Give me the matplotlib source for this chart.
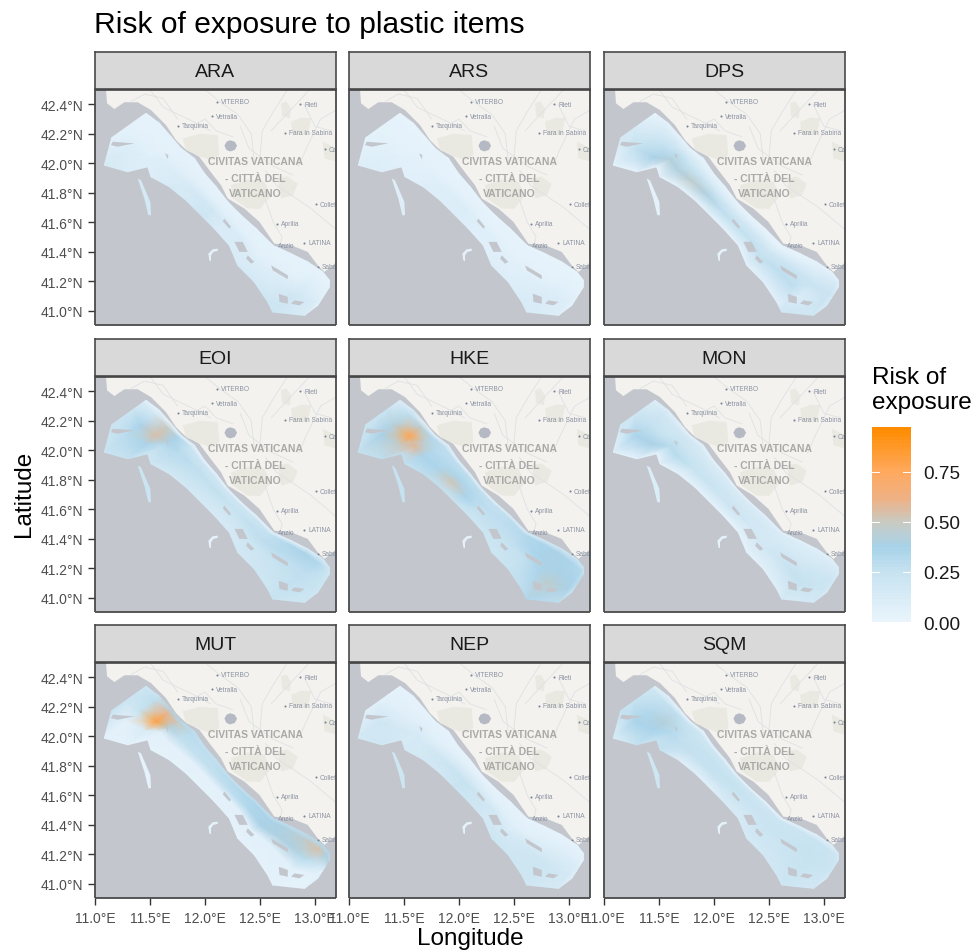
import numpy as np
import matplotlib
matplotlib.use('Agg')
import matplotlib.pyplot as plt
from matplotlib.colors import LinearSegmentedColormap, Normalize
from matplotlib.cm import ScalarMappable

plt.rcParams['font.family'] = ['Liberation Sans', 'DejaVu Sans']

W, H = 976, 953

species = ['ARA', 'ARS', 'DPS', 'EOI', 'HKE', 'MON', 'MUT', 'NEP', 'SQM']

xticks = [11.0, 11.5, 12.0, 12.5, 13.0]
xtick_labels = ['11.0°E', '11.5°E', '12.0°E', '12.5°E', '13.0°E']
yticks = [41.0, 41.2, 41.4, 41.6, 41.8, 42.0, 42.2, 42.4]
ytick_labels = ['41.0°N', '41.2°N', '41.4°N', '41.6°N', '41.8°N', '42.0°N', '42.2°N', '42.4°N']

# coastline
coast_lon = [11.10, 11.109, 11.176, 11.267, 11.388, 11.509, 11.645, 11.736, 11.812, 11.948, 12.039,
             12.145, 12.206, 12.358, 12.494, 12.630, 12.782, 12.933, 13.024, 13.085, 13.197, 13.3, 13.3, 11.1]
coast_lat = [42.504, 42.407, 42.368, 42.414, 42.414, 42.361, 42.259, 42.157, 42.101, 42.044, 41.953,
             41.851, 41.761, 41.692, 41.602, 41.454, 41.443, 41.398, 41.307, 41.262, 41.330, 41.33, 42.6, 42.6]

# built up / hill patches on land
patches_lon = [[11.797, 11.95, 12.115, 12.130, 12.05, 11.964, 11.827],
               [12.236, 12.40, 12.539, 12.60, 12.50, 12.388, 12.252],
               [12.691, 12.74, 12.782, 12.77, 12.70],
               [13.070, 13.197, 13.197, 13.085],
               [12.661, 12.75, 12.842, 12.80, 12.691],
               [12.782, 12.88, 12.964, 12.933, 12.797]]
patches_lat = [[42.169, 42.20, 42.191, 42.055, 42.02, 42.044, 42.089],
               [41.851, 41.89, 41.874, 41.78, 41.69, 41.692, 41.761],
               [42.407, 42.42, 42.37, 42.305, 42.32],
               [42.146, 42.101, 42.010, 42.033],
               [41.897, 41.91, 41.86, 41.783, 41.760],
               [42.282, 42.31, 42.305, 42.191, 42.191]]

lake_lon = [12.176, 12.195, 12.228, 12.270, 12.291, 12.270, 12.228, 12.195]
lake_lat = [42.119, 42.146, 42.156, 42.146, 42.119, 42.090, 42.080, 42.090]

roads_lon = [[11.33, 11.45, 11.62, 11.75],
             [12.00, 12.13, 12.30, 12.42, 12.45],
             [12.75, 12.62, 12.52, 12.50],
             [12.90, 13.00, 13.15],
             [12.55, 12.65, 12.75, 12.95, 13.19],
             [12.55, 12.62, 12.70, 12.68],
             [11.50, 11.62, 11.90, 12.05],
             [12.95, 12.85, 12.70, 12.60],
             [13.19, 13.05, 12.92, 12.85],
             [12.32, 12.40, 12.62, 12.80],
             [11.85, 12.00, 12.10, 12.25]]
roads_lat = [[42.42, 42.47, 42.44, 42.30],
             [42.50, 42.42, 42.33, 42.20, 42.00],
             [42.50, 42.35, 42.22, 42.05],
             [42.40, 42.25, 42.22],
             [41.95, 41.85, 41.80, 41.70, 41.55],
             [41.75, 41.60, 41.50, 41.44],
             [42.50, 42.38, 42.28, 42.22],
             [42.50, 42.42, 42.30, 42.22],
             [42.36, 42.30, 42.10, 41.98],
             [42.25, 42.10, 41.98, 41.92],
             [42.24, 42.30, 42.22, 42.18]]

towns = ['VITERBO', 'Vetralla', 'Tarquinia', 'Rieti', 'Fara in Sabina', 'Colleferro', 'Aprilia',
         'Anzio', 'LATINA', 'Sabaudia', 'Cassino']
towns_lon = [12.109, 12.061, 11.758, 12.867, 12.730, 13.009, 12.652, 12.630, 12.903, 13.024, 13.091]
towns_lat = [42.418, 42.318, 42.253, 42.402, 42.207, 41.722, 41.588, 41.441, 41.461, 41.296, 42.094]
big_names = ['CIVITAS VATICANA', '- CITTÀ DEL', 'VATICANO']
big_lon = [12.455, 12.455, 12.455]
big_lat = [42.017, 41.903, 41.795]

# study area: shore edge and offshore edge at stations going NW to SE
inner_lon = [11.464, 11.585, 11.691, 11.782, 11.903, 11.994, 12.100, 12.206,
             12.327, 12.464, 12.615, 12.782, 12.933, 13.070, 13.130, 13.130]
inner_lat = [42.339, 42.271, 42.180, 42.101, 42.033, 41.931, 41.840, 41.738,
             41.647, 41.556, 41.443, 41.386, 41.330, 41.262, 41.205, 41.160]
outer_lon = [11.152, 11.085, 11.297, 11.479, 11.509, 11.676, 11.827, 11.964,
             12.085, 12.221, 12.297, 12.448, 12.570, 12.615, 12.903, 13.024]
outer_lat = [42.173, 41.987, 41.942, 41.976, 41.908, 41.840, 41.749, 41.647,
             41.556, 41.443, 41.307, 41.194, 41.058, 40.990, 40.967, 41.035]
cross_frac = [0.0, 0.1, 0.35, 0.6, 1.0]

# risk read along the stations, columns go shore -> offshore
ARA = [[.03, .03, .03, .03, .05], [.03, .03, .04, .10, .14], [.03, .03, .04, .07, .10], [.03, .03, .04, .08, .08],
       [.03, .03, .05, .10, .08], [.03, .03, .05, .12, .14], [.03, .03, .05, .16, .14], [.03, .03, .06, .18, .20],
       [.03, .03, .05, .12, .12], [.03, .03, .04, .12, .10], [.03, .03, .04, .08, .14], [.03, .03, .04, .08, .15],
       [.03, .03, .04, .12, .20], [.03, .03, .10, .18, .20], [.03, .03, .06, .12, .12], [.03, .03, .03, .04, .04]]
ARS = [[.02, .02, .03, .03, .03], [.02, .02, .03, .06, .08], [.02, .02, .03, .06, .08], [.02, .02, .03, .06, .06],
       [.02, .02, .03, .06, .06], [.02, .02, .03, .07, .08], [.02, .02, .03, .09, .08], [.02, .02, .04, .10, .10],
       [.02, .02, .03, .07, .07], [.02, .02, .03, .07, .06], [.02, .02, .03, .05, .08], [.02, .02, .03, .05, .09],
       [.02, .02, .03, .08, .12], [.02, .02, .06, .11, .12], [.02, .02, .04, .08, .08], [.02, .02, .02, .03, .03]]
DPS = [[.03, .03, .08, .14, .16], [.04, .10, .20, .26, .03], [.03, .12, .28, .38, .03], [.03, .08, .28, .42, .03],
       [.03, .06, .24, .40, .03], [.03, .05, .24, .46, .03], [.03, .04, .20, .40, .03], [.03, .04, .18, .28, .03],
       [.03, .03, .16, .26, .03], [.03, .03, .16, .26, .03], [.03, .03, .18, .26, .04], [.03, .03, .20, .28, .05],
       [.03, .05, .22, .28, .05], [.03, .10, .22, .10, .18], [.06, .14, .22, .22, .18], [.05, .10, .14, .14, .12]]
EOI = [[.05, .12, .20, .22, .22], [.04, .18, .36, .30, .22], [.03, .50, .55, .36, .25], [.03, .36, .38, .28, .20],
       [.03, .22, .30, .28, .18], [.03, .20, .28, .25, .16], [.03, .18, .26, .23, .16], [.03, .18, .26, .20, .14],
       [.03, .20, .23, .18, .13], [.03, .20, .26, .20, .14], [.04, .26, .28, .20, .16], [.05, .32, .30, .22, .18],
       [.08, .38, .28, .24, .20], [.12, .34, .28, .26, .23], [.18, .23, .23, .23, .18], [.18, .20, .20, .20, .18]]
HKE = [[.10, .14, .22, .22, .22], [.12, .28, .42, .38, .25], [.05, .45, .78, .48, .28], [.05, .32, .46, .58, .28],
       [.05, .28, .32, .36, .26], [.05, .28, .32, .35, .28], [.05, .28, .35, .52, .26], [.05, .28, .32, .36, .23],
       [.06, .26, .28, .26, .20], [.10, .28, .28, .26, .20], [.12, .32, .28, .23, .20], [.15, .36, .35, .26, .23],
       [.18, .38, .38, .35, .28], [.20, .35, .38, .46, .34], [.23, .32, .36, .38, .28], [.23, .28, .28, .28, .23]]
MON = [[.08, .12, .16, .18, .18], [.10, .18, .26, .36, .05], [.05, .16, .23, .38, .03], [.05, .16, .23, .30, .03],
       [.05, .14, .20, .30, .04], [.04, .12, .20, .23, .03], [.04, .12, .18, .23, .03], [.04, .12, .18, .20, .03],
       [.05, .12, .16, .20, .03], [.05, .12, .16, .16, .03], [.05, .12, .15, .16, .04], [.05, .10, .15, .20, .06],
       [.06, .10, .16, .25, .08], [.06, .12, .20, .25, .13], [.10, .14, .20, .20, .16], [.10, .13, .16, .16, .13]]
MUT = [[.20, .20, .22, .22, .22], [.25, .28, .24, .04, .03], [.42, .60, .82, .12, .03], [.32, .50, .42, .05, .03],
       [.28, .30, .27, .04, .03], [.26, .28, .26, .04, .03], [.26, .28, .26, .04, .03], [.26, .30, .26, .04, .03],
       [.26, .32, .28, .04, .03], [.28, .35, .32, .05, .03], [.28, .38, .38, .05, .03], [.28, .40, .40, .06, .03],
       [.30, .46, .40, .06, .03], [.32, .55, .30, .05, .03], [.32, .40, .18, .03, .03], [.28, .42, .20, .05, .05]]
NEP = [[.03, .03, .03, .05, .06], [.03, .03, .08, .18, .16], [.03, .03, .08, .16, .18], [.03, .03, .08, .14, .14],
       [.03, .03, .06, .15, .15], [.03, .03, .08, .18, .16], [.03, .03, .10, .22, .16], [.03, .03, .12, .24, .22],
       [.03, .03, .08, .20, .20], [.03, .03, .06, .16, .16], [.03, .03, .05, .13, .20], [.03, .03, .06, .16, .20],
       [.03, .03, .10, .20, .20], [.03, .04, .13, .20, .18], [.03, .04, .11, .15, .14], [.03, .03, .05, .06, .06]]
SQM = [[.08, .18, .22, .25, .25], [.06, .25, .32, .36, .10], [.03, .28, .42, .36, .25], [.03, .23, .29, .32, .25],
       [.03, .20, .25, .27, .25], [.03, .20, .25, .25, .08], [.03, .20, .25, .25, .06], [.03, .20, .25, .23, .06],
       [.03, .20, .24, .20, .13], [.03, .18, .22, .18, .13], [.04, .20, .22, .20, .15], [.05, .22, .22, .20, .16],
       [.05, .23, .24, .22, .18], [.08, .23, .24, .23, .20], [.14, .20, .22, .20, .16], [.13, .18, .18, .18, .15]]
risk = [ARA, ARS, DPS, EOI, HKE, MON, MUT, NEP, SQM]

# offshore bank, one value per panel
bank_lon = [11.388, 11.418, 11.503, 11.509, 11.485, 11.448]
bank_lat = [41.896, 41.884, 41.737, 41.647, 41.647, 41.760]
bank_risk = [.15, .08, .04, .22, .25, .10, .03, .20, .20]
hook_lon = [12.039, 12.030, 12.070, 12.115, 12.115, 12.076, 12.054, 12.054]
hook_lat = [41.341, 41.386, 41.416, 41.420, 41.405, 41.398, 41.375, 41.334]

# gaps in the study area
holes_lon = [[12.267, 12.342, 12.388, 12.312], [12.600, 12.752, 12.752, 12.615], [12.670, 12.752, 12.752, 12.676],
             [12.812, 12.903, 12.858, 12.782], [12.176, 12.236, 12.221, 12.161], [11.161, 11.358, 11.206, 11.145],
             [12.388, 12.448, 12.418, 12.373], [11.636, 11.667, 11.661]]
holes_lat = [[41.466, 41.466, 41.398, 41.398], [41.307, 41.239, 41.212, 41.273], [41.114, 41.092, 41.046, 41.058],
             [41.069, 41.058, 41.035, 41.046], [41.624, 41.568, 41.556, 41.606], [42.146, 42.135, 42.112, 42.123],
             [41.375, 41.330, 41.318, 41.352], [42.067, 42.055, 42.028]]

SEA = '#c3c7cd'
LAND = '#f4f2ee'
VMAX = 0.972
col_stops = [(0.0, '#e9f4fc'), (0.25 / VMAX, '#c6e2f0'), (0.37 / VMAX, '#a8d3ea'), (0.5 / VMAX, '#c9cac2'),
             (0.62 / VMAX, '#efb184'), (0.75 / VMAX, '#ffaa60'), (1.0, '#ff8c00')]
cmap = LinearSegmentedColormap.from_list('risk', col_stops)
cmap_bar = LinearSegmentedColormap.from_list('risk60', col_stops, N=60)
norm = Normalize(0, VMAX)

col_left = [95, 349, 604]
row_top = [90, 377, 663]
PANEL_W, PANEL_H = 241, 235.5
STRIP_H = 37


def px_axes(fig, left, top, width, height):
    return fig.add_axes([left / W, 1 - (top + height) / H, width / W, height / H])


def draw_basemap(ax):
    ax.set_facecolor(SEA)
    ax.fill(coast_lon, coast_lat, color=LAND, lw=0, zorder=1)
    for lo, la in zip(patches_lon, patches_lat):
        ax.fill(lo, la, color='#e9e9e1', lw=0, zorder=1.1)
    for lo, la in zip(roads_lon, roads_lat):
        ax.plot(lo, la, color='#dde2e4', lw=0.6, zorder=1.2)
    ax.fill(lake_lon, lake_lat, color='#b4b9c3', lw=0, zorder=1.3)
    ax.plot(towns_lon, towns_lat, ls='', marker='o', ms=1.5, color='#7d8594', mew=0, zorder=1.4)
    for name, lo, la in zip(towns, towns_lon, towns_lat):
        ax.text(lo + 0.035, la, name, fontsize=4.8, color='#8b93a3', va='center', ha='left', clip_on=True, zorder=1.4)
    for name, lo, la in zip(big_names, big_lon, big_lat):
        ax.text(lo, la, name, fontsize=7.5, fontweight='bold', color='#a9a9a7', va='center', ha='center', zorder=1.4)


def draw_risk(ax, values, bank_value):
    frac = np.array(cross_frac)
    X = np.outer(inner_lon, 1 - frac) + np.outer(outer_lon, frac)
    Y = np.outer(inner_lat, 1 - frac) + np.outer(outer_lat, frac)
    ax.pcolormesh(X, Y, np.array(values), cmap=cmap, norm=norm, shading='gouraud', zorder=2)
    ax.fill(bank_lon, bank_lat, color=cmap(norm(bank_value)), lw=0, zorder=2)
    ax.fill(hook_lon, hook_lat, color=cmap(norm(0.03)), lw=0, zorder=2)
    for lo, la in zip(holes_lon, holes_lat):
        ax.fill(lo, la, color=SEA, lw=0, zorder=2.1)


fig = plt.figure(figsize=(W / 100, H / 100), dpi=100, facecolor='white')

for i, name in enumerate(species):
    row, col = i // 3, i % 3
    ax = px_axes(fig, col_left[col], row_top[row], PANEL_W, PANEL_H)
    draw_basemap(ax)
    draw_risk(ax, risk[i], bank_risk[i])
    ax.set_xlim(11.0, 13.19)
    ax.set_ylim(40.905, 42.504)
    ax.set_xticks(xticks)
    ax.set_yticks(yticks)
    ax.set_xticklabels(xtick_labels if row == 2 else [])
    ax.set_yticklabels(ytick_labels if col == 0 else [])
    ax.tick_params(length=4.8, width=1.0, color='#333333', labelcolor='#4d4d4d', labelsize=10,
                   bottom=row == 2, left=col == 0)
    ax.tick_params(axis='y', pad=3.6)
    ax.tick_params(axis='x', pad=5)
    for s in ax.spines.values():
        s.set_color('#4a4a4a')
        s.set_linewidth(1.3)
        s.set_capstyle('butt')
    ax.spines['top'].set_color('#333333')
    ax.spines['top'].set_linewidth(1.8)

    strip = px_axes(fig, col_left[col], row_top[row] - STRIP_H, PANEL_W, STRIP_H)
    strip.set_facecolor('#d9d9d9')
    strip.set_xticks([])
    strip.set_yticks([])
    for s in strip.spines.values():
        s.set_color('#4a4a4a')
        s.set_linewidth(1.2)
    strip.text(0.5, 0.48, name, fontsize=14, color='#1a1a1a', ha='center', va='center', transform=strip.transAxes)

fig.text(94 / W, 1 - 25 / H, 'Risk of exposure to plastic items', fontsize=21.6, color='black', ha='left', va='center')
fig.text(470 / W, 1 - 939 / H, 'Longitude', fontsize=17.5, color='black', ha='center', va='center')
fig.text(24 / W, 1 - 494 / H, 'Latitude', fontsize=17.5, color='black', ha='center', va='center', rotation=90)
fig.text(872 / W, 1 - 367 / H, 'Risk of\nexposure', fontsize=17.5, color='black', ha='left', va='top', linespacing=1.2)

cax = px_axes(fig, 871.5, 428, 39, 195)
cbar = fig.colorbar(ScalarMappable(norm=norm, cmap=cmap_bar), cax=cax, ticks=[0, 0.25, 0.5, 0.75])
cbar.outline.set_visible(False)
cbar.ax.set_yticklabels(['0.00', '0.25', '0.50', '0.75'])
cbar.ax.tick_params(length=0, labelsize=13.7, labelcolor='#1a1a1a', pad=9)
for t in [0, 0.25, 0.5, 0.75]:
    cbar.ax.plot([0, 0.2], [t, t], color='white', lw=0.7, clip_on=False)
    cbar.ax.plot([0.8, 1], [t, t], color='white', lw=0.7, clip_on=False)

fig.savefig('out.png', dpi=100)
